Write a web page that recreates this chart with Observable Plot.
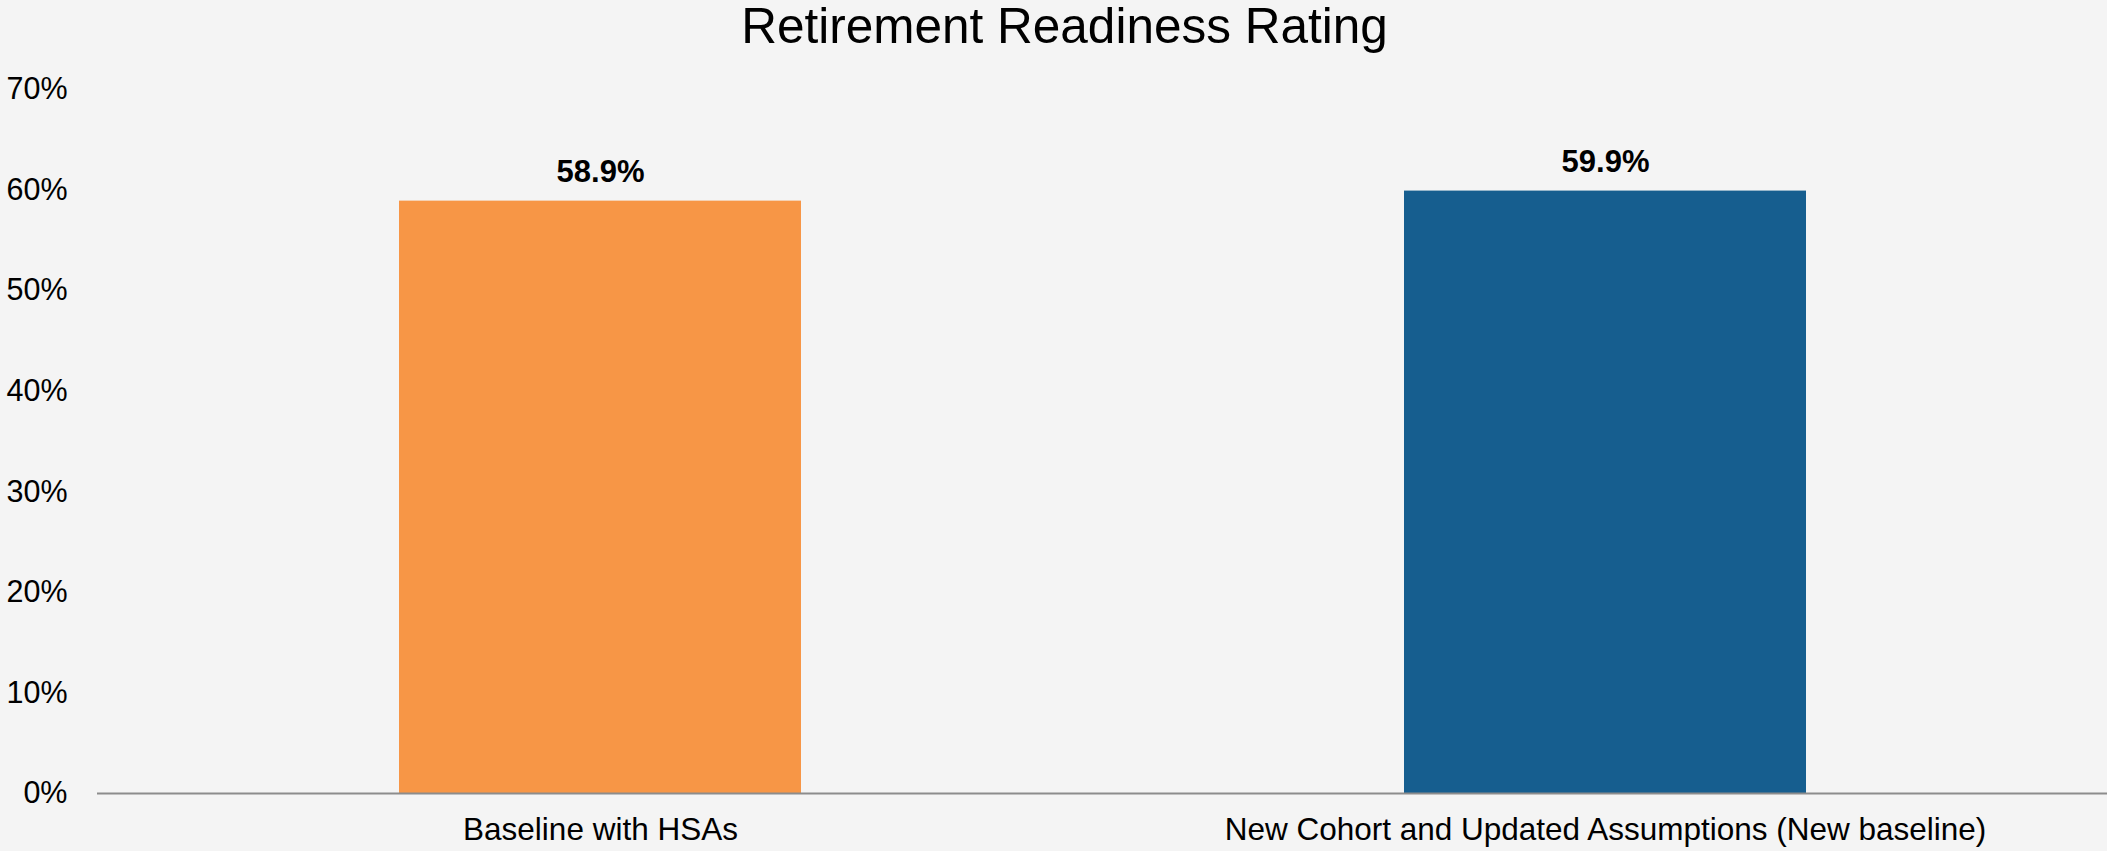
<!DOCTYPE html>
<html>
<head>
<meta charset="utf-8">
<script src="https://cdn.jsdelivr.net/npm/d3@7"></script>
<script src="https://cdn.jsdelivr.net/npm/@observablehq/plot@0.6"></script>
<style>
  html, body { margin: 0; padding: 0; background: #f4f4f4; }
  body { width: 2107px; height: 851px; overflow: hidden; font-family: "Liberation Sans", Arial, sans-serif; }
  #title { height: 51px; line-height: 51px; font-size: 49.5px; text-align: center; color: #000; white-space: nowrap; padding-left: 22px; }
</style>
</head>
<body>
<div id="title">Retirement Readiness Rating</div>
<div id="chart"></div>
<script>
const categories = ["Baseline with HSAs", "New Cohort and Updated Assumptions (New baseline)"];
const values = [58.9, 59.9];
const colors = ["#f79646", "#165e8f"];
const yTicks = [0, 10, 20, 30, 40, 50, 60, 70];

const data = categories.map((c, i) => ({category: c, value: values[i], color: colors[i]}));

const chart = Plot.plot({
  width: 2107,
  height: 800,
  marginTop: 38,
  marginBottom: 58,
  marginLeft: 97,
  marginRight: 0,
  style: {background: "#f4f4f4", fontFamily: "'Liberation Sans', Arial, sans-serif", color: "#000"},
  x: {domain: categories, paddingInner: 0.6, paddingOuter: 0.3, label: null},
  y: {domain: [0, 70], label: null},
  marks: [
    Plot.barY(data, {x: "category", y: "value", fill: "color"}),
    Plot.ruleY([0], {stroke: "#8c8c8c", strokeWidth: 2}),
    Plot.text(data, {x: "category", y: "value", text: d => d.value.toFixed(1) + "%", dy: -29, lineAnchor: "middle", fontSize: 31, fontWeight: "bold", fill: "#000"}),
    Plot.axisY({ticks: yTicks, tickFormat: d => d + "%", tickSize: 0, tickPadding: 30, fontSize: 30.5, label: null}),
    Plot.axisX({tickSize: 0, tickPadding: 24, fontSize: 31.5, label: null})
  ]
});
document.getElementById("chart").appendChild(chart);
</script>
</body>
</html>
